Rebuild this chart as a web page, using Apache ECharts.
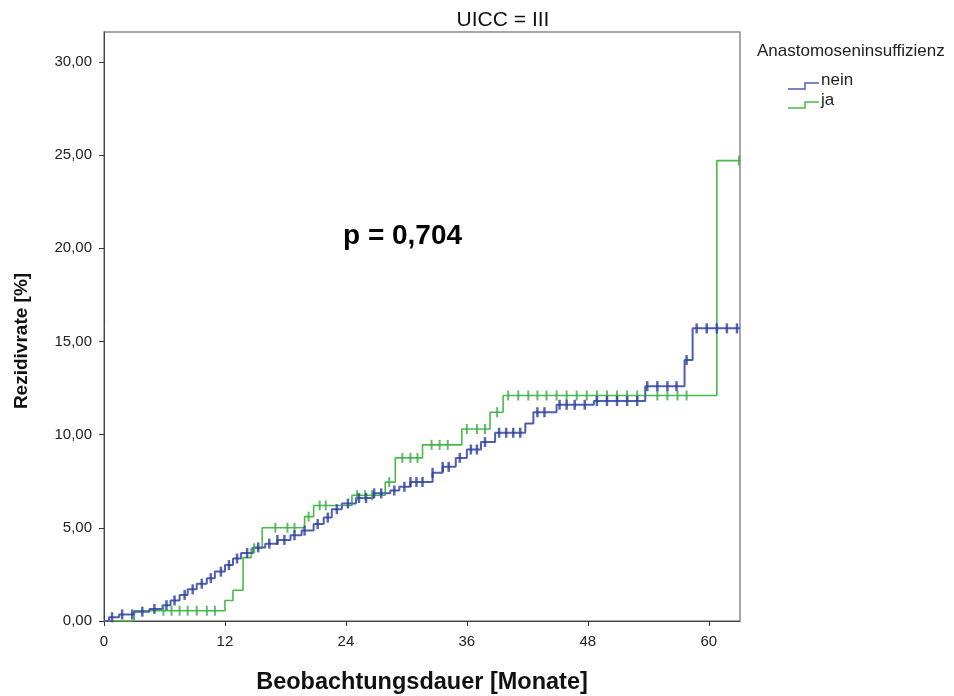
<!DOCTYPE html>
<html><head><meta charset="utf-8">
<script src="https://cdn.jsdelivr.net/npm/echarts@6/dist/echarts.min.js"></script>
<style>html,body{margin:0;padding:0;background:#fff}#c{width:954px;height:696px}</style>
</head><body><div id="c"></div>
<script>
// Kaplan-Meier style recurrence rate (%), UICC = III
const neinTimes  = [0, 0.5, 1.5, 3, 4.5, 5.8, 6.6, 7.5, 8.3, 9.2, 10.2, 11, 12, 12.8, 13.6, 14.8, 16, 17.2, 18.5, 19.6, 20.8, 21.8, 22.6, 23.6, 25, 26.7, 28.4, 29.3, 30.4, 32.6, 33.6, 34.9, 36, 37.4, 38.8, 41.8, 42.6, 44.9, 48.6, 53.7, 57.6, 58.4];
const neinValues = [0, 0.2, 0.35, 0.5, 0.65, 0.85, 1.1, 1.4, 1.7, 2.0, 2.3, 2.65, 3.0, 3.35, 3.65, 3.95, 4.15, 4.35, 4.6, 4.85, 5.2, 5.55, 6.0, 6.3, 6.6, 6.85, 7.0, 7.2, 7.46, 7.95, 8.27, 8.75, 9.2, 9.6, 10.1, 10.6, 11.2, 11.6, 11.8, 12.6, 14.0, 15.7];
const neinCensor = [0.8, 1.8, 2.8, 3.8, 5, 6.2, 7, 8, 8.8, 9.7, 10.6, 11.6, 12.4, 13.2, 14.2, 15.3, 16.4, 17.2, 17.9, 18.9, 19.9, 21.2, 22.2, 23.1, 24.2, 25.3, 26, 26.8, 27.5, 28.8, 29.8, 30.4, 31, 31.6, 32.6, 33.6, 34.2, 35.3, 36.4, 37, 37.8, 39.2, 39.9, 40.6, 41.3, 43, 43.7, 45.2, 45.9, 46.7, 47.7, 48.9, 49.9, 50.9, 51.9, 52.9, 53.9, 54.9, 55.9, 56.8, 57.8, 58.8, 59.8, 60.8, 61.8, 62.8];
const jaTimes  = [0, 3, 12, 12.8, 13.8, 14.6, 15.7, 19.9, 20.8, 24.6, 27.9, 28.9, 31.6, 35.5, 38.3, 39.6, 60.8];
const jaValues = [0, 0.55, 1.1, 1.65, 3.4, 3.9, 5.0, 5.6, 6.2, 6.75, 7.45, 8.75, 9.45, 10.3, 11.2, 12.1, 24.7];
const jaCensor = [5.9, 6.7, 7.5, 8.3, 9.2, 10.2, 11, 14.9, 17, 18.2, 18.9, 20.3, 21.4, 22, 25.1, 25.9, 26.6, 28.3, 29.6, 30.4, 31.1, 32.5, 33.3, 34.1, 36, 37, 37.8, 39, 40.1, 41.1, 42.1, 43, 43.9, 44.9, 45.9, 46.9, 47.9, 48.9, 49.9, 50.9, 51.9, 52.9, 54.9, 55.9, 56.9, 57.8, 63];
const xTickLabels = [0, 12, 24, 36, 48, 60];
const yTickLabels = [0, 5, 10, 15, 20, 25, 30];
const xMax = 63.1, yMax = 31.6;

function stepData(times, values) {
  const d = times.map((t, i) => [t, values[i]]);
  d.push([xMax, values[values.length - 1]]);
  return d;
}
function valueAt(times, values, t) {
  let v = values[0];
  for (let i = 0; i < times.length; i++) if (times[i] <= t) v = values[i];
  return v;
}
function censorData(times, values, cens) {
  return cens.map(t => [t, valueAt(times, values, t)]);
}
const fmtNum = v => v.toFixed(2).replace('.', ',');
const BLUE = '#4f5fb0', BLUE_M = '#2e3e9c', GREEN = '#4cb94b', GREEN_M = '#3aa94a';
const FONT = 'Liberation Sans, Arial, sans-serif';

const chart = echarts.init(document.getElementById('c'), null, {renderer: 'canvas'});
chart.setOption({
  animation: false,
  backgroundColor: '#fff',
  title: {
    text: 'UICC = III', left: 498, top: 5, textAlign: 'center',
    textStyle: {fontFamily: FONT, fontSize: 21, fontWeight: 'normal', color: '#111'}
  },
  grid: {left: 104, right: 214, top: 32, bottom: 75, show: true, borderColor: '#8a8a8a', borderWidth: 1.5,
    containLabel: false, outerBoundsMode: 'none'},
  xAxis: {
    type: 'value', min: 0, max: xMax, interval: 12,
    name: 'Beobachtungsdauer [Monate]', nameLocation: 'middle', nameGap: 50,
    nameTextStyle: {fontFamily: FONT, fontSize: 23.5, fontWeight: 'bold', color: '#111'},
    axisLine: {show: true, onZero: false, lineStyle: {color: '#444', width: 1}},
    axisTick: {show: true, length: 5, lineStyle: {color: '#333'}, customValues: xTickLabels},
    axisLabel: {fontFamily: FONT, fontSize: 15, color: '#222', margin: 13, customValues: xTickLabels,
      formatter: v => String(v)},
    splitLine: {show: false}
  },
  yAxis: {
    type: 'value', min: 0, max: yMax, interval: 5,
    axisLine: {show: true, onZero: false, lineStyle: {color: '#444', width: 1}},
    axisTick: {show: true, length: 5, lineStyle: {color: '#333'}, customValues: yTickLabels},
    axisLabel: {fontFamily: FONT, fontSize: 15, color: '#222', margin: 12, customValues: yTickLabels,
      formatter: v => fmtNum(v)},
    splitLine: {show: false}
  },
  series: [
    {name: 'nein', type: 'line', step: 'end', data: stepData(neinTimes, neinValues), showSymbol: false,
      lineStyle: {color: BLUE, width: 2}, z: 3},
    {name: 'ja', type: 'line', step: 'end', data: stepData(jaTimes, jaValues), showSymbol: false,
      lineStyle: {color: GREEN, width: 1.6}, z: 2},
    {name: 'nein zensiert', type: 'scatter', data: censorData(neinTimes, neinValues, neinCensor),
      symbol: 'rect', symbolSize: [2.5, 10], itemStyle: {color: BLUE_M}, z: 4},
    {name: 'ja zensiert', type: 'scatter', data: censorData(jaTimes, jaValues, jaCensor),
      symbol: 'rect', symbolSize: [2, 10], itemStyle: {color: GREEN_M}, z: 3}
  ],
  graphic: [
    {type: 'text', x: 22, y: 341, rotation: Math.PI / 2,
      style: {text: 'Rezidivrate [%]', font: 'bold 19px ' + FONT, fill: '#111', align: 'center', verticalAlign: 'middle'}},
    {type: 'text', left: 343, top: 222, style: {text: 'p = 0,704', font: 'bold 28px ' + FONT, fill: '#000'}},
    {type: 'text', left: 757, top: 43, style: {text: 'Anastomoseninsuffizienz', font: '17px ' + FONT, fill: '#222'}},
    {type: 'polyline', shape: {points: [[788, 89], [805, 89], [805, 83], [819, 83]]}, style: {stroke: BLUE, lineWidth: 1.5, fill: null}},
    {type: 'text', left: 821, top: 72, style: {text: 'nein', font: '17px ' + FONT, fill: '#222'}},
    {type: 'polyline', shape: {points: [[788, 108], [805, 108], [805, 102], [819, 102]]}, style: {stroke: GREEN, lineWidth: 1.5, fill: null}},
    {type: 'text', left: 821, top: 92, style: {text: 'ja', font: '17px ' + FONT, fill: '#222'}}
  ]
});
</script></body></html>
